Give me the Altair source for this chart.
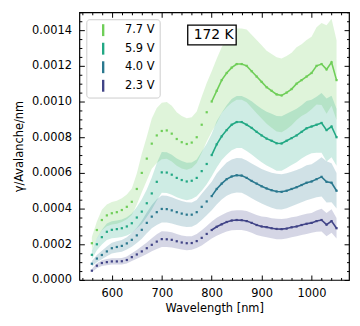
import altair as alt
import pandas as pd

# ---- data ----
wavelength = list(range(560, 1051, 10))  # nm

v77 = [0.000206, 0.00028, 0.000336, 0.000362, 0.000374, 0.00038, 0.000392, 0.00041, 0.000438, 0.00051,
       0.0006, 0.00068, 0.000764, 0.00081, 0.000835, 0.000838, 0.00082, 0.00079, 0.000772, 0.000762,
       0.00077, 0.0008, 0.00087, 0.00094, 0.001, 0.00106, 0.00112, 0.00116, 0.00119, 0.00121,
       0.00121, 0.0012, 0.00117, 0.00114, 0.00111, 0.00108, 0.00106, 0.00104, 0.001034, 0.00105,
       0.00107, 0.0011, 0.00112, 0.00114, 0.00116, 0.0012, 0.00121, 0.00118, 0.00122, 0.00112]
v59 = [0.000141, 0.0002, 0.00024, 0.00027, 0.000281, 0.000285, 0.00029, 0.0003, 0.000318, 0.00035,
       0.000383, 0.00043, 0.000485, 0.00055, 0.000603, 0.000602, 0.00059, 0.000572, 0.00056, 0.000552,
       0.000556, 0.000572, 0.00061, 0.00065, 0.0007, 0.00076, 0.000805, 0.00084, 0.00087, 0.000885,
       0.000885, 0.00087, 0.000852, 0.00083, 0.00081, 0.000792, 0.00078, 0.000766, 0.000765, 0.00078,
       0.000795, 0.00081, 0.00083, 0.00085, 0.00086, 0.00087, 0.00088, 0.00084, 0.00086, 0.0008]
v40 = [0.000091, 0.00012, 0.00014, 0.00016, 0.000178, 0.000185, 0.000191, 0.000205, 0.000225, 0.00025,
       0.000281, 0.00032, 0.000355, 0.00038, 0.000398, 0.000397, 0.00039, 0.00038, 0.000372, 0.000366,
       0.000366, 0.00038, 0.00041, 0.00044, 0.00047, 0.00051, 0.00054, 0.000565, 0.00058, 0.000587,
       0.000585, 0.000572, 0.000555, 0.00054, 0.000525, 0.000513, 0.000503, 0.000496, 0.000494, 0.0005,
       0.00051, 0.00052, 0.000532, 0.000545, 0.000552, 0.000565, 0.000578, 0.00055, 0.000545, 0.0005]
v23 = [0.000052, 0.00008, 0.000095, 0.0001, 0.000104, 0.000104, 0.000105, 0.000112, 0.000128, 0.000143,
       0.00016, 0.000178, 0.000197, 0.000215, 0.000229, 0.000228, 0.000225, 0.000217, 0.00021, 0.000206,
       0.000207, 0.000218, 0.000236, 0.000258, 0.00028, 0.000298, 0.000312, 0.000325, 0.000333, 0.000336,
       0.000335, 0.00033, 0.00032, 0.000308, 0.0003, 0.000296, 0.00029, 0.000286, 0.000285, 0.000288,
       0.000295, 0.0003, 0.000308, 0.000315, 0.00032, 0.00033, 0.000336, 0.00031, 0.00033, 0.00029]
# relative half-width of the shaded uncertainty band
err_frac = [0.17, 0.17, 0.17, 0.17, 0.17, 0.17, 0.17, 0.17, 0.17, 0.17,
            0.18, 0.18, 0.185, 0.19, 0.19, 0.19, 0.19, 0.19, 0.19, 0.19,
            0.185, 0.18, 0.18, 0.175, 0.17, 0.17, 0.165, 0.165, 0.165, 0.165,
            0.165, 0.17, 0.175, 0.18, 0.185, 0.19, 0.195, 0.2, 0.2, 0.195,
            0.19, 0.185, 0.18, 0.18, 0.175, 0.18, 0.19, 0.21, 0.2, 0.2]

series_names = ["7.7 V", "5.9 V", "4.0 V", "2.3 V"]
series_values = [v77, v59, v40, v23]
colors = ["#6fce58", "#22a884", "#2a788e", "#414487"]

x_major = [600, 700, 800, 900, 1000]
x_minor = [v for v in range(540, 1061, 20) if v % 100 != 0]
y_major = [0, 0.0002, 0.0004, 0.0006, 0.0008, 0.001, 0.0012, 0.0014]
y_minor = [round(i * 0.00005, 5) for i in range(0, 31) if i % 4 != 0]

# annotation "172 K"
box_x = [752, 849]
box_y = [0.001317, 0.001428]
label_pos = [804, 0.001372]
label_text = "172 K"

rows = []
for name, vals in zip(series_names, series_values):
    for wl, v, f in zip(wavelength, vals, err_frac):
        rows.append({"wl": wl, "series": name, "value": v,
                     "lo": v * (1 - f), "hi": v * (1 + f)})
df = pd.DataFrame(rows)

FONT = "DejaVu Sans"
FS = 11.5
MAJ, MIN = 5, 2.5
xs = alt.Scale(domain=[535, 1075], nice=False, zero=False)
ys = alt.Scale(domain=[0, 0.0015], nice=False)
cs = alt.Scale(domain=series_names, range=colors)

legend = alt.Legend(
    title=None, orient="top-left", offset=7, padding=5,
    symbolType="M-0.2,-1L0.2,-1L0.2,1L-0.2,1Z", symbolSize=144,
    symbolStrokeWidth=0, symbolOpacity=1, symbolOffset=6,
    labelFont=FONT, labelFontSize=FS, labelColor="black",
    labelOffset=16, rowPadding=6.7,
    strokeColor="#cccccc", fillColor="white", cornerRadius=3,
)
color_enc = alt.Color("series:N", scale=cs, legend=legend)

bands = alt.Chart(df).mark_area(fillOpacity=0.22, strokeWidth=0, clip=True).encode(
    x=alt.X("wl:Q", scale=xs, axis=None),
    y=alt.Y("lo:Q", scale=ys, axis=None),
    y2=alt.Y2("hi:Q"),
    color=color_enc,
)

points = alt.Chart(df).mark_point(filled=True, shape="square", size=5, opacity=1).encode(
    x=alt.X("wl:Q", scale=xs, axis=None),
    y=alt.Y("value:Q", scale=ys, axis=None),
    color=color_enc,
)

lines = alt.Chart(df).transform_filter("datum.wl >= 800").mark_line(strokeWidth=1.6).encode(
    x=alt.X("wl:Q", scale=xs, axis=None),
    y=alt.Y("value:Q", scale=ys, axis=None),
    color=color_enc,
)

ann_df = pd.DataFrame({"x1": [box_x[0]], "x2": [box_x[1]], "y1": [box_y[0]], "y2": [box_y[1]],
                       "tx": [label_pos[0]], "ty": [label_pos[1]], "t": [label_text]})
box = alt.Chart(ann_df).mark_rect(fill="white", stroke="black", strokeWidth=1.3).encode(
    x=alt.X("x1:Q", scale=xs, axis=None), x2="x2:Q",
    y=alt.Y("y1:Q", scale=ys, axis=None), y2="y2:Q",
)
box_text = alt.Chart(ann_df).mark_text(font=FONT, fontSize=14, color="black").encode(
    x=alt.X("tx:Q", scale=xs, axis=None),
    y=alt.Y("ty:Q", scale=ys, axis=None),
    text="t:N",
)


def tick_axis(orient, values, size, labels=False, **kw):
    return alt.Axis(orient=orient, values=values, grid=False, domain=False,
                    labels=labels, ticks=True, tickSize=size, offset=-size,
                    tickColor="black", tickWidth=1, **kw)


ann_axes = pd.DataFrame({"wl": [600], "value": [0.0]})
lab_common = dict(labelColor="black", labelFont=FONT, labelFontSize=FS, labelFlush=False,
                  titleFont=FONT, titleFontSize=FS, titleFontWeight="normal", titleColor="black")

axes_major_bl = alt.Chart(ann_axes).mark_point(opacity=0).encode(
    x=alt.X("wl:Q", scale=xs, title="Wavelength [nm]",
            axis=tick_axis("bottom", x_major, MAJ, labels=True, format="d",
                           labelPadding=3 + MAJ, titlePadding=3, **lab_common)),
    y=alt.Y("value:Q", scale=ys, title="γ/Avalanche/nm",
            axis=tick_axis("left", y_major, MAJ, labels=True, format=".4f",
                           labelPadding=3 + MAJ, titlePadding=7, **lab_common)),
)
axes_minor_bl = alt.Chart(ann_axes).mark_point(opacity=0).encode(
    x=alt.X("wl:Q", scale=xs, title=None, axis=tick_axis("bottom", x_minor, MIN)),
    y=alt.Y("value:Q", scale=ys, title=None, axis=tick_axis("left", y_minor, MIN)),
)
axes_major_tr = alt.Chart(ann_axes).mark_point(opacity=0).encode(
    x=alt.X("wl:Q", scale=xs, title=None, axis=tick_axis("top", x_major, MAJ)),
    y=alt.Y("value:Q", scale=ys, title=None, axis=tick_axis("right", y_major, MAJ)),
)
axes_minor_tr = alt.Chart(ann_axes).mark_point(opacity=0).encode(
    x=alt.X("wl:Q", scale=xs, title=None, axis=tick_axis("top", x_minor, MIN)),
    y=alt.Y("value:Q", scale=ys, title=None, axis=tick_axis("right", y_minor, MIN)),
)

chart = alt.layer(
    bands, points, lines, box, box_text,
    axes_major_bl, axes_minor_bl, axes_major_tr, axes_minor_tr,
).resolve_axis(
    x="independent", y="independent"
).properties(
    width=272, height=270,
    padding={"left": 5, "top": 2, "right": 2, "bottom": 2},
).configure_view(stroke="black", strokeWidth=1.2)

chart.save("out.html", embed_options={"renderer": "svg", "actions": False})
